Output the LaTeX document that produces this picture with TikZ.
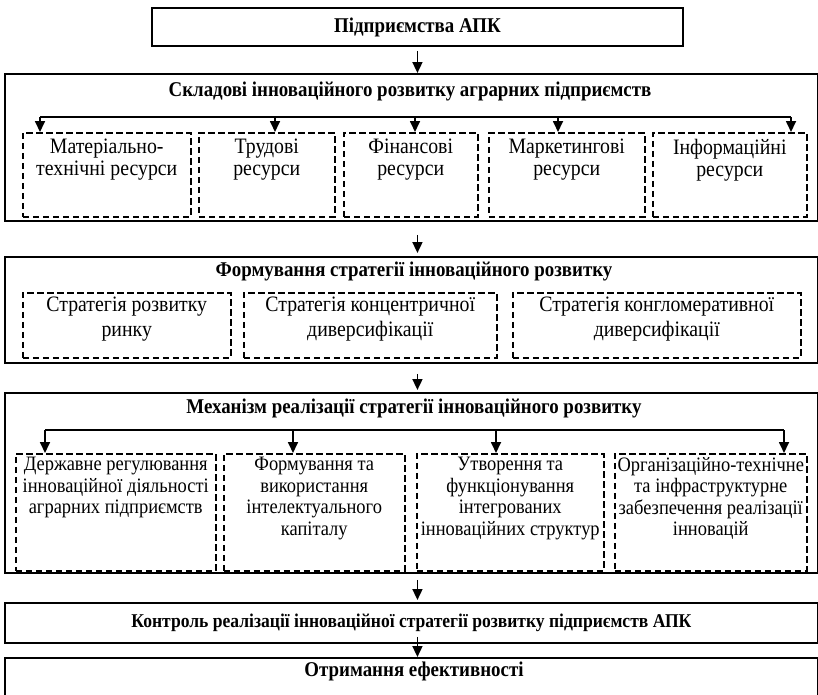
\documentclass[tikz,border=0pt]{standalone}
\usepackage{fontspec}
\setmainfont{Liberation Serif}[FakeStretch=0.9]
\usetikzlibrary{arrows.meta}

\tikzset{
  bigbox/.style={draw, line width=1.9pt, inner sep=0pt, anchor=north west},
  dbox/.style={draw, line width=1.5pt, dash pattern=on 6.5pt off 3.5pt, inner sep=0pt, anchor=north west},
  ttl/.style={font=\bfseries\fontsize{21}{24}\selectfont, inner sep=0pt},
  lbl/.style={align=center, inner sep=0pt, anchor=north},
  arr/.style={line width=1.7pt, -{Triangle[length=11pt,width=10pt]}},
}

\begin{document}
\begin{tikzpicture}[x=1pt,y=-1pt]
\useasboundingbox (0,0) rectangle (818,694);
% main blocks
\node[bigbox, ttl, minimum width=531pt, minimum height=38pt] (apk) at (151,7) {Підприємства АПК};
\node[bigbox, minimum width=813pt, minimum height=147pt] (sklad) at (4,73) {};
\node[ttl] (skladt) at (410,91) {Складові інноваційного розвитку аграрних підприємств};
\node[bigbox, minimum width=813pt, minimum height=106pt] (form) at (4,256) {};
\node[ttl] (formt) at (414,271) {Формування стратегії інноваційного розвитку};
\node[bigbox, minimum width=813pt, minimum height=180pt] (mech) at (4,392) {};
\node[ttl] (mecht) at (414,408) {Механізм реалізації стратегії інноваційного розвитку};
\node[bigbox, minimum width=813pt, minimum height=40pt, font=\bfseries\fontsize{19.5}{22}\selectfont] (kontr) at (4,602) {Контроль реалізації інноваційної стратегії розвитку підприємств АПК};
\node[bigbox, minimum width=813pt, minimum height=80pt] (otr) at (4,657) {};
\node[ttl] (otrt) at (414,671) {Отримання ефективності};

% resources
\foreach \i/\xa/\xb/\txt in {1/22/190/{Матеріально-\\технічні ресурси},
    2/198/334/{Трудові\\ресурси}, 3/343/477/{Фінансові\\ресурси},
    4/488/644/{Маркетингові\\ресурси}, 5/652/806/{Інформаційні\\ресурси}}{
  \node[dbox, minimum width={(\xb-\xa)*1pt}, minimum height=84pt] (ra\i) at (\xa,132) {};
  \node[lbl, font=\fontsize{22}{22}\selectfont] (ta\i) at ([yshift=-7pt]ra\i.north) {\txt};
}
\foreach \i/\x in {1/40,2/275,3/415,4/558,5/791}{
  \coordinate (pa\i) at (\x,117);
  \draw[arr] (pa\i) -- (pa\i |- ra\i.north);
}
\draw[line width=1.7pt] (pa1) -- (pa5);

% strategies
\foreach \i/\xa/\xb/\txt in {1/22/230/{Стратегія розвитку\\ринку},
    2/243/496/{Стратегія концентричної\\диверсифікації},
    3/512/800/{Стратегія конгломеративної\\диверсифікації}}{
  \node[dbox, minimum width={(\xb-\xa)*1pt}, minimum height=65pt] (rb\i) at (\xa,292) {};
  \node[lbl, font=\fontsize{22}{25}\selectfont] (tb\i) at ([yshift=-5pt]rb\i.north) {\txt};
}

% mechanism
\foreach \i/\xa/\xb/\txt in {1/15/215/{Державне регулювання\\інноваційної діяльності\\аграрних підприємств},
    2/223/404/{Формування та\\використання\\інтелектуального\\капіталу},
    3/416/603/{Утворення та\\функціонування\\інтегрованих\\інноваційних структур},
    4/614/806/{Організаційно-технічне\\та інфраструктурне\\забезпечення реалізації\\інновацій}}{
  \node[dbox, minimum width={(\xb-\xa)*1pt}, minimum height=117pt] (rc\i) at (\xa,453) {};
  \node[lbl, font=\fontsize{20.5}{21.5}\selectfont] (tc\i) at ([yshift=-4pt]rc\i.north) {\txt};
}
\foreach \i/\x in {1/45,2/293,3/496,4/784}{
  \coordinate (pc\i) at (\x,430);
  \draw[arr] (pc\i) -- (pc\i |- rc\i.north);
}
\draw[line width=1.7pt] (pc1) -- (pc4);

% flow between blocks
\draw[arr, shorten <=4pt] (apk.south) -- (apk.south |- sklad.north);
\draw[arr, shorten <=13pt, shorten >=3pt] (sklad.south -| apk.south) -- (apk.south |- form.north);
\draw[arr, shorten <=10pt, shorten >=2pt] (form.south -| apk.south) -- (apk.south |- mech.north);
\draw[arr, shorten <=6pt, shorten >=2pt] (mech.south -| apk.south) -- (apk.south |- kontr.north);
\draw[arr, shorten <=-7pt] (kontr.south -| apk.south) -- (apk.south |- otr.north);
\end{tikzpicture}
\end{document}
